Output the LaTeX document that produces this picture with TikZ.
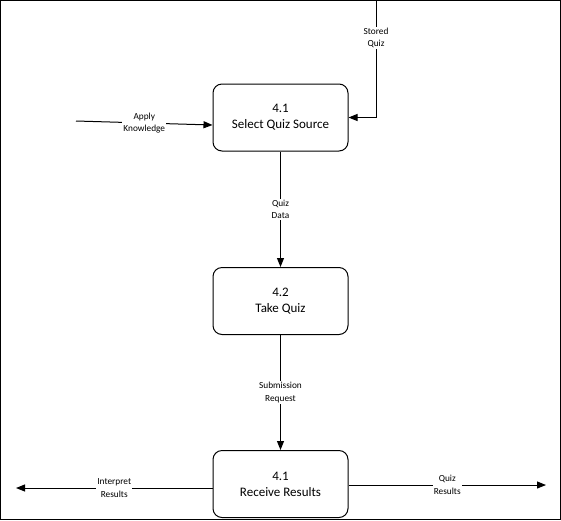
\documentclass[tikz,border=0pt]{standalone}
\usepackage{fontspec}
\setmainfont{Carlito}
\usetikzlibrary{arrows.meta}
\begin{document}
\begin{tikzpicture}[x=1pt,y=-1pt,
  proc/.style={draw,rounded corners=9pt,minimum width=135pt,minimum height=67pt,align=center,font=\fontsize{13}{16}\selectfont,line width=1pt},
  flow/.style={-{Triangle[length=9pt,width=7pt]},line width=1pt},
  lbl/.style={fill=white,align=center,font=\fontsize{9.3}{12.5}\selectfont,inner sep=1pt}]
\useasboundingbox (0,0) rectangle (561,520);
\draw[line width=1pt] (0.5,0.5) rectangle (560.5,519.5);
\node[proc] (b1) at (280.5,117.5) {4.1\\Select Quiz Source};
\node[proc] (b2) at (280.5,301) {4.2\\Take Quiz};
\node[proc] (b3) at (280.5,484) {4.1\\Receive Results};
\coordinate (stTop) at (376,0.5);
\coordinate (stCorner) at (376,117.5);
\coordinate (akStart) at (76,121);
\coordinate (irEnd) at (16,488);
\coordinate (qrEnd) at (546,485);
\draw[flow] (stTop) -- node[lbl,pos=0.32]{Stored\\Quiz} (stCorner) -- (b1.east);
\draw[flow] (akStart) -- node[lbl,pos=0.5]{Apply\\Knowledge} (b1.west |- 0,125);
\draw[flow] (b1.south) -- node[lbl,pos=0.5]{Quiz\\Data} (b2.north);
\draw[flow] (b2.south) -- node[lbl,pos=0.5]{Submission\\Request} (b3.north);
\draw[flow] (b3.west |- irEnd) -- node[lbl,pos=0.5]{Interpret\\Results} (irEnd);
\draw[flow] (b3.east |- qrEnd) -- node[lbl,pos=0.5]{Quiz\\Results} (qrEnd);
\end{tikzpicture}
\end{document}
